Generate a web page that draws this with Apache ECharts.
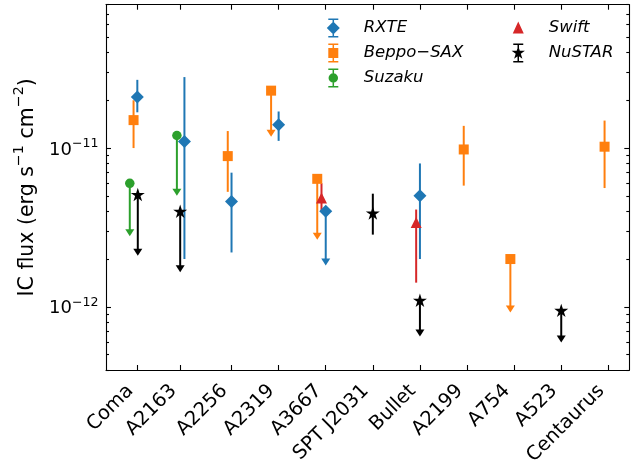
<!DOCTYPE html>
<html>
<head>
<meta charset="utf-8">
<script src="https://cdn.jsdelivr.net/npm/echarts@6/dist/echarts.min.js"></script>
<style>
  html, body { margin: 0; padding: 0; background: #ffffff; }
  #chart { width: 639px; height: 460px; }
</style>
</head>
<body>
<div id="chart"></div>
<script>
// Galaxy clusters along the horizontal axis and where their ticks sit
const clusters = ['Coma', 'A2163', 'A2256', 'A2319', 'A3667', 'SPT J2031', 'Bullet', 'A2199', 'A754', 'A523', 'Centaurus'];
const clusterTicks = [0, 0.92, 2, 3, 4, 5, 6, 7, 8, 9, 10];

// Flux axis ticks (erg s^-1 cm^-2)
const majorTicks = [1e-12, 1e-11];
const minorTicks = [4e-13, 5e-13, 6e-13, 7e-13, 8e-13, 9e-13,
                    2e-12, 3e-12, 4e-12, 5e-12, 6e-12, 7e-12, 8e-12, 9e-12,
                    2e-11, 3e-11, 4e-11, 5e-11, 6e-11, 7e-11, 8e-11];

// Each row: [cluster axis position, IC flux, lower end, upper end, upper limit (1) or measurement (0)]
// For upper limits the lower end is where the arrow points to.
const rxte = [
  [0.00, 2.10e-11, 1.68e-11, 2.69e-11, 0],
  [1.00, 1.10e-11, 2.00e-12, 2.80e-11, 0],
  [2.00, 4.60e-12, 2.20e-12, 7.00e-12, 0],
  [3.00, 1.40e-11, 1.11e-11, 1.70e-11, 0],
  [4.00, 4.00e-12, 1.82e-12, 4.00e-12, 1],
  [6.00, 5.00e-12, 2.00e-12, 8.00e-12, 0]
];
const beppoSax = [
  [-0.08, 1.50e-11, 1.00e-11, 2.00e-11, 0],
  [1.92, 8.90e-12, 5.30e-12, 1.28e-11, 0],
  [2.84, 2.30e-11, 1.18e-11, 2.30e-11, 1],
  [3.82, 6.40e-12, 2.65e-12, 6.40e-12, 1],
  [6.93, 9.80e-12, 5.80e-12, 1.38e-11, 0],
  [7.92, 2.00e-12, 9.20e-13, 2.00e-12, 1],
  [9.92, 1.02e-11, 5.60e-12, 1.49e-11, 0]
];
const suzaku = [
  [-0.16, 6.00e-12, 2.78e-12, 6.00e-12, 1],
  [0.84, 1.20e-11, 5.00e-12, 1.20e-11, 1]
];
const swift = [
  [3.91, 4.85e-12, 4.00e-12, 6.00e-12, 0],
  [5.92, 3.40e-12, 1.42e-12, 4.10e-12, 0]
];
const nustar = [
  [0.01, 5.10e-12, 2.10e-12, 5.10e-12, 1],
  [0.91, 4.00e-12, 1.65e-12, 4.00e-12, 1],
  [5.00, 3.90e-12, 2.85e-12, 5.16e-12, 0],
  [6.00, 1.10e-12, 6.50e-13, 1.10e-12, 1],
  [9.00, 9.50e-13, 5.95e-13, 9.50e-13, 1]
];

const FONT = 'DejaVu Sans';
const STAR = 'path://M50 0 L61.23 34.55 L97.55 34.55 L68.17 55.9 L79.39 90.45 L50 69.1 L20.61 90.45 L31.83 55.9 L2.45 34.55 L38.77 34.55 Z';

// Legend glyphs: marker with a capped error bar
const CAPS_10 = 'M0 0 L10 0 L10 1.5 L0 1.5 Z M0 17.5 L10 17.5 L10 19 L0 19 Z M4.25 0 L5.75 0 L5.75 19 L4.25 19 Z ';
const ICON_RXTE = 'path://M1.5 0 L11.5 0 L11.5 1.5 L1.5 1.5 Z M1.5 17.5 L11.5 17.5 L11.5 19 L1.5 19 Z M5.75 0 L7.25 0 L7.25 19 L5.75 19 Z M6.5 3 L13 9.5 L6.5 16 L0 9.5 Z';
const ICON_SAX = 'path://' + CAPS_10 + 'M0 4.5 L10 4.5 L10 14.5 L0 14.5 Z';
const ICON_SUZAKU = 'path://' + CAPS_10 + 'M0.25 9.5 A4.75 4.75 0 1 1 9.75 9.5 A4.75 4.75 0 1 1 0.25 9.5 Z';
const ICON_SWIFT = 'path://M5.5 0 L5.5 0 Z M5.5 19 L5.5 19 Z M5.5 3 L11 15 L0 15 Z';
const ICON_NUSTAR = 'path://M2 0 L12 0 L12 1.5 L2 1.5 Z M2 17.5 L12 17.5 L12 19 L2 19 Z M6.25 0 L7.75 0 L7.75 19 L6.25 19 Z ' +
  'M7 2.5 L8.572 7.337 L13.657 7.337 L9.544 10.326 L11.115 15.163 L7 12.174 L2.885 15.163 L4.456 10.326 L0.343 7.337 L5.428 7.337 Z';

const instruments = [
  { name: 'RXTE', color: '#1f77b4', rows: rxte, symbol: 'diamond', size: 13, icon: ICON_RXTE },
  { name: 'Beppo\u2212SAX', color: '#ff7f0e', rows: beppoSax, symbol: 'rect', size: 10, icon: ICON_SAX },
  { name: 'Suzaku', color: '#2ca02c', rows: suzaku, symbol: 'circle', size: 9.5, icon: ICON_SUZAKU },
  { name: 'Swift', color: '#d62728', rows: swift, symbol: 'triangle', size: 11, icon: ICON_SWIFT },
  { name: 'NuSTAR', color: '#000000', rows: nustar, symbol: STAR, size: [14, 13.3], icon: ICON_NUSTAR }
];

// Error bars, or downward arrows for upper limits
function errorBars(color) {
  return function (params, api) {
    const x = api.value(0);
    const c = api.coord([x, api.value(1)]);
    const line = { stroke: color, lineWidth: 2 };
    if (api.value(4)) {
      const tip = api.coord([x, api.value(2)]);
      return {
        type: 'group',
        children: [
          { type: 'line', shape: { x1: c[0], y1: c[1], x2: c[0], y2: tip[1] - 6 }, style: line },
          { type: 'polygon', shape: { points: [[c[0] - 4.5, tip[1] - 7], [c[0] + 4.5, tip[1] - 7], [c[0], tip[1]]] },
            style: { fill: color } }
        ]
      };
    }
    const lo = api.coord([x, api.value(2)]);
    const hi = api.coord([x, api.value(3)]);
    return { type: 'line', shape: { x1: lo[0], y1: lo[1], x2: hi[0], y2: hi[1] }, style: line };
  };
}

const series = [];
instruments.forEach(function (ins) {
  series.push({
    type: 'custom', name: ins.name, data: ins.rows, renderItem: errorBars(ins.color),
    itemStyle: { color: ins.color }, encode: { x: 0, y: 1 }, silent: true, clip: false, z: 2
  });
  series.push({
    type: 'scatter', name: ins.name, data: ins.rows.map(function (r) { return [r[0], r[1]]; }),
    symbol: ins.symbol, symbolSize: ins.size, itemStyle: { color: ins.color, opacity: 1 },
    silent: true, z: 2
  });
});

const black = { color: '#000000', width: 1.1 };
const frameLine = { show: true, onZero: false, lineStyle: black };
const noLine = { show: false, onZero: false };
const majorTick = { show: true, inside: true, length: 5, customValues: majorTicks, lineStyle: black };
const minorTick = { show: true, inside: true, length: 3, customValues: minorTicks, lineStyle: black };
const logBase = { type: 'log', logBase: 10, min: 4e-13, max: 8e-11, splitLine: { show: false }, minorTick: { show: false } };

function nearestCluster(v) {
  let best = 0;
  for (let i = 1; i < clusterTicks.length; i++) {
    if (Math.abs(clusterTicks[i] - v) < Math.abs(clusterTicks[best] - v)) best = i;
  }
  return clusters[best];
}

const legendText = { fontFamily: FONT, fontSize: 16.5, fontStyle: 'italic', color: '#000' };

const option = {
  backgroundColor: '#ffffff',
  animation: false,
  grid: { left: 106, right: 9.7, top: 4.7, bottom: 90, outerBoundsMode: 'none', containLabel: false },
  legend: [
    {
      left: 326.8, top: 18.5, orient: 'vertical', padding: 0, itemWidth: 51, itemHeight: 19, itemGap: 6,
      selectedMode: false, textStyle: legendText,
      data: instruments.slice(0, 3).map(function (ins) { return { name: ins.name, icon: ins.icon }; })
    },
    {
      left: 511.6, top: 18.5, orient: 'vertical', padding: 0, itemWidth: 51, itemHeight: 19, itemGap: 6,
      selectedMode: false, textStyle: legendText,
      data: instruments.slice(3).map(function (ins) { return { name: ins.name, icon: ins.icon }; })
    }
  ],
  xAxis: [
    {
      type: 'value', position: 'bottom', min: -0.665, max: 10.445,
      axisLine: frameLine, splitLine: { show: false },
      axisTick: { show: true, inside: true, length: 5, customValues: clusterTicks, lineStyle: black },
      axisLabel: {
        customValues: clusterTicks, formatter: nearestCluster, rotate: 45, margin: 25,
        align: 'right', verticalAlign: 'bottom', hideOverlap: false,
        fontFamily: FONT, fontSize: 19.5, color: '#000'
      }
    },
    {
      type: 'value', position: 'top', min: -0.665, max: 10.445,
      axisLine: frameLine, splitLine: { show: false },
      axisTick: { show: true, inside: true, length: 5, customValues: clusterTicks, lineStyle: black },
      axisLabel: { show: false }
    }
  ],
  yAxis: [
    Object.assign({}, logBase, {
      position: 'left', axisLine: frameLine, axisTick: majorTick,
      axisLabel: {
        customValues: majorTicks, margin: 7.5,
        formatter: function (v) { return '{b|10}{s|\u2212' + Math.round(-Math.log10(v)) + '}'; },
        rich: {
          b: { fontFamily: FONT, fontSize: 18, color: '#000', lineHeight: 22, verticalAlign: 'bottom' },
          s: { fontFamily: FONT, fontSize: 12.6, color: '#000', lineHeight: 12, verticalAlign: 'top' }
        }
      },
      name: '{t|IC flux (erg s}{s|\u22121}{t| cm}{s|\u22122}{t|)}',
      nameLocation: 'middle', nameGap: 63,
      nameTextStyle: {
        fontFamily: FONT, fontSize: 20.5, color: '#000',
        rich: {
          t: { fontFamily: FONT, fontSize: 20.5, color: '#000', lineHeight: 26, verticalAlign: 'bottom' },
          s: { fontFamily: FONT, fontSize: 14.3, color: '#000', lineHeight: 15, verticalAlign: 'top' }
        }
      }
    }),
    Object.assign({}, logBase, { position: 'left', axisLine: noLine, axisTick: minorTick, axisLabel: { show: false } }),
    Object.assign({}, logBase, { position: 'right', axisLine: frameLine, axisTick: majorTick, axisLabel: { show: false } }),
    Object.assign({}, logBase, { position: 'right', axisLine: noLine, axisTick: minorTick, axisLabel: { show: false } })
  ],
  series: series
};

const chart = echarts.init(document.getElementById('chart'), null, { renderer: 'canvas' });
chart.setOption(option);
</script>
</body>
</html>
